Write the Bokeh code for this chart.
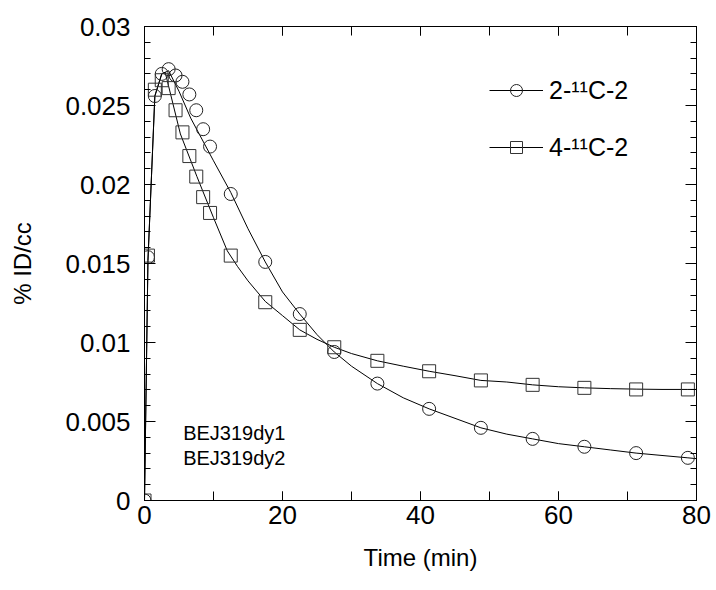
from bokeh.plotting import figure
from bokeh.models import (Range1d, SingleIntervalTicker, LinearAxis, Legend,
                          LegendItem, Label, CustomJSTickFormatter)
from bokeh.embed import file_html
from bokeh.resources import INLINE

# ---- data ----
time_c = [0, 0.5, 1.5, 2.5, 3.5, 4.5, 5.5, 6.5, 7.5, 8.5, 9.5, 12.5, 17.5, 22.5,
          27.5, 33.75, 41.25, 48.75, 56.25, 63.75, 71.25, 78.75]
pct_c = [0.0, 0.0154, 0.0256, 0.0270, 0.0273, 0.0269, 0.0265, 0.0257, 0.0247,
         0.0235, 0.0224, 0.0194, 0.0151, 0.0118, 0.0094, 0.0074, 0.0058, 0.0046,
         0.0039, 0.0034, 0.0030, 0.0027]

time_s = [0, 0.5, 1.5, 2.5, 3.5, 4.5, 5.5, 6.5, 7.5, 8.5, 9.5, 12.5, 17.5, 22.5,
          27.5, 33.75, 41.25, 48.75, 56.25, 63.75, 71.25, 78.75]
pct_s = [0.0, 0.0155, 0.0260, 0.0266, 0.0261, 0.0247, 0.0233, 0.0218, 0.0205,
         0.0192, 0.0182, 0.0155, 0.01255, 0.0108, 0.0097, 0.00884, 0.00818,
         0.0076, 0.00732, 0.00713, 0.00703, 0.00703]

# fitted curves
fit_time_c = [0, 0.5, 1.5, 2.5, 3.5, 5, 6.7, 10, 12.5, 15, 17.5, 20, 22.5, 25,
              27.5, 30, 33.75, 37.5, 41.25, 45, 48.75, 52.5, 56.25, 60, 63.75,
              67.5, 71.25, 75, 78.75, 80]
fit_c = [0.0, 0.0152, 0.0256, 0.0270, 0.0272, 0.0259, 0.0242, 0.0215, 0.0195,
         0.0172, 0.0151, 0.0132, 0.0118, 0.0105, 0.0094, 0.0085, 0.0074, 0.0065,
         0.0058, 0.0052, 0.0046, 0.0042, 0.0039, 0.0036, 0.0034, 0.0032, 0.0030,
         0.00285, 0.0027, 0.00265]

fit_time_s = [0, 0.5, 1.5, 2.5, 3.0, 5.2, 7.6, 10, 12, 13.5, 15, 17.5, 20, 22.5,
              25, 27.5, 30, 33.75, 37.5, 41.25, 45, 48.75, 52.5, 56.25, 60,
              63.75, 67.5, 71.25, 75, 78.75, 80]
fit_s = [0.0, 0.0152, 0.0256, 0.0270, 0.0271, 0.0232, 0.0205, 0.0179, 0.0158,
         0.0148, 0.0139, 0.0126, 0.0117, 0.0108, 0.0102, 0.0097, 0.0093, 0.00884,
         0.0085, 0.00818, 0.0079, 0.0076, 0.0075, 0.00732, 0.0072, 0.00713,
         0.00708, 0.00705, 0.00703, 0.00703, 0.00703]

labels = ["2-\u00b9\u00b9C-2", "4-\u00b9\u00b9C-2"]
notes = ["BEJ319dy1", "BEJ319dy2"]

FONT = "Liberation Sans"

p = figure(width=712, height=586, output_backend="svg", toolbar_location=None,
           x_range=Range1d(0, 80), y_range=Range1d(0, 0.03),
           min_border_left=144, min_border_right=16, min_border_top=26,
           min_border_bottom=86)
p.background_fill_color = "white"
p.border_fill_color = "white"
p.outline_line_color = "black"
p.outline_line_width = 1
p.grid.visible = False

xt = SingleIntervalTicker(interval=20, num_minor_ticks=2)
yt = SingleIntervalTicker(interval=0.005, num_minor_ticks=5)
yfmt = CustomJSTickFormatter(code="return String(parseFloat(tick.toFixed(4)));")
blank = CustomJSTickFormatter(code="return '';")

p.xaxis.ticker = xt
p.yaxis.ticker = yt
p.yaxis.formatter = yfmt

for ax in (p.xaxis[0], p.yaxis[0]):
    ax.axis_line_color = "black"
    ax.major_tick_line_color = "black"
    ax.minor_tick_line_color = "black"
    ax.major_tick_out = 0
    ax.minor_tick_out = 0
    ax.major_label_text_font = FONT
    ax.major_label_text_font_size = "26px"
    ax.major_label_text_color = "black"
    ax.axis_label_text_font = FONT
    ax.axis_label_text_font_size = "24px"
    ax.axis_label_text_font_style = "normal"
    ax.axis_label_text_color = "black"

p.xaxis.major_tick_in = 9
p.xaxis.minor_tick_in = 9
p.yaxis.major_tick_in = 11
p.yaxis.minor_tick_in = 6
p.xaxis.major_label_standoff = 5
p.yaxis.major_label_standoff = 14
p.xaxis.axis_label = "Time (min)"
p.yaxis.axis_label = "% ID/cc"
p.xaxis.axis_label_standoff = 17
p.yaxis.axis_label_standoff = 26

top = LinearAxis(ticker=xt, formatter=blank, major_tick_in=9, minor_tick_in=9,
                 major_tick_out=0, minor_tick_out=0, major_label_standoff=0,
                 axis_line_color="black")
right = LinearAxis(ticker=yt, formatter=blank, major_tick_in=11, minor_tick_in=6,
                   major_tick_out=0, minor_tick_out=0, major_label_standoff=0,
                   axis_line_color="black")
p.add_layout(top, "above")
p.add_layout(right, "right")

lc = p.line(fit_time_c, fit_c, line_color="black", line_width=1)
ls = p.line(fit_time_s, fit_s, line_color="black", line_width=1)
mc = p.scatter(time_c, pct_c, marker="circle", size=13, fill_color=None,
               line_color="#222222", line_width=1)
ms = p.scatter(time_s, pct_s, marker="square", size=13, fill_color=None,
               line_color="#333333", line_width=1)

legend = Legend(items=[LegendItem(label=labels[0], renderers=[lc, mc]),
                       LegendItem(label=labels[1], renderers=[ls, ms])],
                location=(345, 338), glyph_width=54, glyph_height=30,
                label_height=30, spacing=27, padding=0, margin=0,
                label_standoff=6, border_line_color=None,
                background_fill_alpha=0, label_text_font=FONT,
                label_text_font_size="25px", label_text_color="black")
p.add_layout(legend, "center")

for i, t in enumerate(notes):
    p.add_layout(Label(x=5.6, y=0.0043 - i * 0.00158, text=t,
                       text_font=FONT, text_font_size="20px",
                       text_baseline="middle", text_color="black"))

open("out.html", "w").write(file_html(p, INLINE))
